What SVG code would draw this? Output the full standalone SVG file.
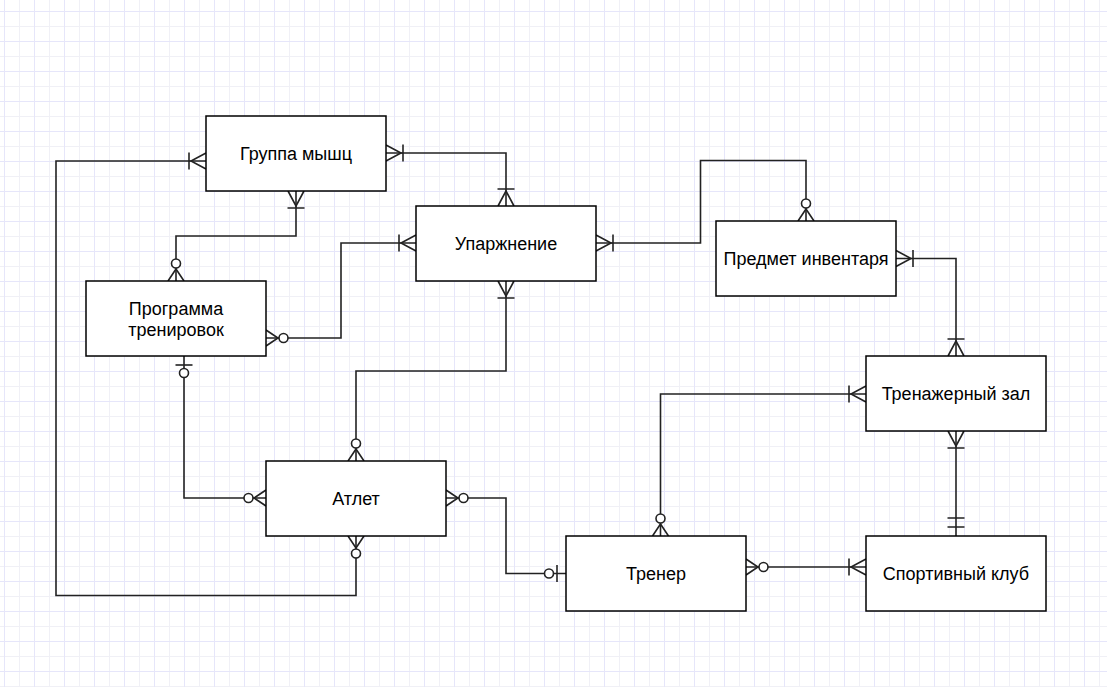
<svg xmlns="http://www.w3.org/2000/svg" width="1107" height="687" viewBox="0 0 1107 687">
<style>
.box{fill:#fff;stroke:#000;stroke-width:1.5}
.lbl{font-family:"Liberation Sans",Arial,sans-serif;font-size:18px;fill:#000;text-anchor:middle}
.conn path{fill:none;stroke:#222;stroke-width:1.6}
.mk{fill:none;stroke:#222;stroke-width:1.6}
.mkc{fill:#fff;stroke:#222;stroke-width:1.6}
</style>
<defs>
<pattern id="grid" x="4" y="11" width="30" height="30" patternUnits="userSpaceOnUse">
<path d="M15.5,0V30M0,15.5H30" stroke="#f0f0f6" stroke-width="1" fill="none"/>
<path d="M0.5,0V30M0,0.5H30" stroke="#e6e6fa" stroke-width="1" fill="none"/>
</pattern>
<marker id="crowBar" markerUnits="userSpaceOnUse" orient="auto-start-reverse" refX="0" refY="0" viewBox="-24 -12 26 24" markerWidth="26" markerHeight="24" overflow="visible">
<path class="mk" d="M0,-8L-15,0L0,8M-17,-8.5V8.5"/>
</marker>
<marker id="circleCrow" markerUnits="userSpaceOnUse" orient="auto-start-reverse" refX="0" refY="0" viewBox="-24 -12 26 24" markerWidth="26" markerHeight="24" overflow="visible">
<path class="mk" d="M0,-8L-12,0L0,8"/>
<circle class="mkc" cx="-17.5" cy="0" r="4.5"/>
</marker>
<marker id="circleBar" markerUnits="userSpaceOnUse" orient="auto-start-reverse" refX="0" refY="0" viewBox="-24 -12 26 24" markerWidth="26" markerHeight="24" overflow="visible">
<path class="mk" d="M-9,-8.5V8.5"/>
<circle class="mkc" cx="-17" cy="0" r="4.5"/>
</marker>
<marker id="doubleBar" markerUnits="userSpaceOnUse" orient="auto-start-reverse" refX="0" refY="0" viewBox="-24 -12 26 24" markerWidth="26" markerHeight="24" overflow="visible">
<path class="mk" d="M-9,-8.5V8.5M-18,-8.5V8.5"/>
</marker>
</defs>
<rect width="1107" height="687" fill="#fff"/>
<rect width="1107" height="687" fill="url(#grid)"/>
<g id="connectors" class="conn">
<path d="M356,536V595.5H56V161H206" marker-start="url(#circleCrow)" marker-end="url(#crowBar)"/>
<path d="M386,153H506V206" marker-start="url(#crowBar)" marker-end="url(#crowBar)"/>
<path d="M296,191V236H176V281" marker-start="url(#crowBar)" marker-end="url(#circleCrow)"/>
<path d="M266,338H341V243H416" marker-start="url(#circleCrow)" marker-end="url(#crowBar)"/>
<path d="M596,243H700.5V160.5H806V221" marker-start="url(#crowBar)" marker-end="url(#circleCrow)"/>
<path d="M896,258.5H956V356" marker-start="url(#crowBar)" marker-end="url(#crowBar)"/>
<path d="M506,281V371H356V461" marker-start="url(#crowBar)" marker-end="url(#circleCrow)"/>
<path d="M184,356V498H266" marker-start="url(#circleBar)" marker-end="url(#circleCrow)"/>
<path d="M446,498H506V573.5H566" marker-start="url(#circleCrow)" marker-end="url(#circleBar)"/>
<path d="M660.5,536V394H866" marker-start="url(#circleCrow)" marker-end="url(#crowBar)"/>
<path d="M746,567H866" marker-start="url(#circleCrow)" marker-end="url(#crowBar)"/>
<path d="M956,431V536" marker-start="url(#crowBar)" marker-end="url(#doubleBar)"/>
</g>
<g id="gruppa-myshc"><rect class="box" x="206" y="116" width="180" height="75"/><text class="lbl" x="296" y="160">Группа мышц</text></g>
<g id="uprazhnenie"><rect class="box" x="416" y="206" width="180" height="75"/><text class="lbl" x="506" y="250">Упаржнение</text></g>
<g id="predmet-inventarya"><rect class="box" x="716" y="221" width="180" height="75"/><text class="lbl" x="806" y="265">Предмет инвентаря</text></g>
<g id="programma-trenirovok"><rect class="box" x="86" y="281" width="180" height="75"/><text class="lbl" x="176" y="314.5">Программа</text><text class="lbl" x="176" y="336">тренировок</text></g>
<g id="atlet"><rect class="box" x="266" y="461" width="180" height="75"/><text class="lbl" x="356" y="505">Атлет</text></g>
<g id="trener"><rect class="box" x="566" y="536" width="180" height="75"/><text class="lbl" x="656" y="580">Тренер</text></g>
<g id="trenazherny-zal"><rect class="box" x="866" y="356" width="180" height="75"/><text class="lbl" x="956" y="400">Тренажерный зал</text></g>
<g id="sportivny-klub"><rect class="box" x="866" y="536" width="180" height="75"/><text class="lbl" x="956" y="580">Спортивный клуб</text></g>
</svg>
